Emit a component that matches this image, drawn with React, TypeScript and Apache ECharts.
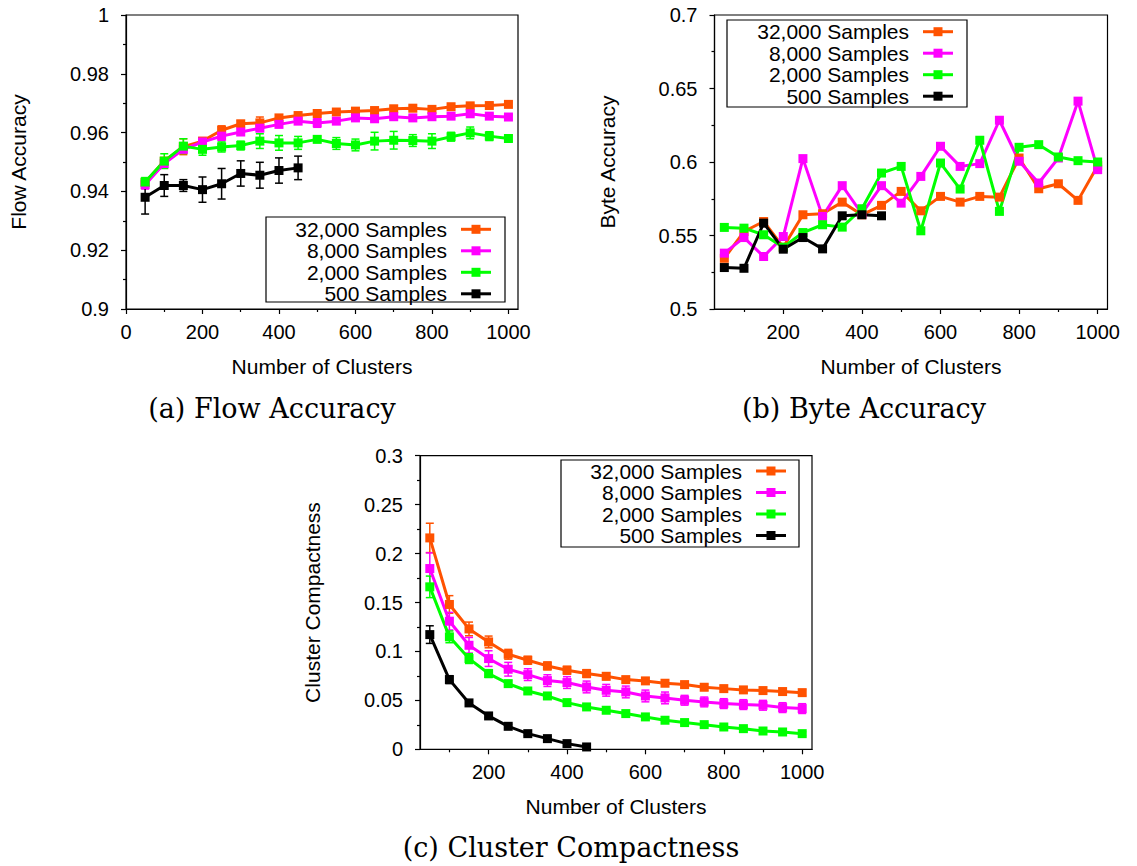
import React, { useEffect, useRef } from 'react';
import * as echarts from 'echarts';

const SANS = "'Liberation Sans', Arial, Helvetica, sans-serif";
const SERIF = "'DejaVu Serif', serif";

const clusters = [50, 100, 150, 200, 250, 300, 350, 400, 450, 500, 550, 600, 650, 700, 750, 800, 850, 900, 950, 1000];
const clustersSmall = [50, 100, 150, 200, 250, 300, 350, 400, 450];
const seriesNames = ['32,000 Samples', '8,000 Samples', '2,000 Samples', '500 Samples'];
const seriesColors = ['#ff5200', '#ff00ff', '#00ff00', '#000000'];

const xTicksA = [0, 200, 400, 600, 800, 1000];
const xTicksBC = [200, 400, 600, 800, 1000];
const xMinorTicks = [100, 300, 500, 700, 900];

// (a) Flow accuracy
const flow32k = [0.9430, 0.9503, 0.9552, 0.9571, 0.9608, 0.9630, 0.9633, 0.9650, 0.9658, 0.9665, 0.9670, 0.9673, 0.9675, 0.9681, 0.9683, 0.9679, 0.9688, 0.9691, 0.9692, 0.9696];
const flow8k = [0.9423, 0.9495, 0.9543, 0.9568, 0.9588, 0.9602, 0.9615, 0.9628, 0.9639, 0.9633, 0.9639, 0.9650, 0.9647, 0.9654, 0.9650, 0.9654, 0.9656, 0.9664, 0.9656, 0.9653];
const flow2k = [0.9432, 0.9503, 0.9554, 0.9543, 0.9551, 0.9556, 0.9571, 0.9565, 0.9565, 0.9577, 0.9563, 0.9558, 0.9571, 0.9574, 0.9573, 0.9571, 0.9586, 0.9599, 0.9588, 0.9580];
const flow500 = [0.9380, 0.9420, 0.9420, 0.9406, 0.9426, 0.9461, 0.9455, 0.9471, 0.9480];
const flowErr32k = [0.0008, 0.0010, 0.0027, 0.0008, 0.0015, 0.0010, 0.0020, 0.0010, 0.0008, 0.0008, 0.0008, 0.0008, 0.0008, 0.0008, 0.0008, 0.0008, 0.0008, 0.0008, 0.0008, 0.0008];
const flowErr8k = [0.0015, 0.0015, 0.0010, 0.0015, 0.0015, 0.0010, 0.0010, 0.0010, 0.0010, 0.0015, 0.0010, 0.0008, 0.0008, 0.0008, 0.0008, 0.0008, 0.0008, 0.0008, 0.0008, 0.0008];
const flowErr2k = [0.0015, 0.0025, 0.0025, 0.0020, 0.0017, 0.0015, 0.0025, 0.0025, 0.0022, 0.0010, 0.0020, 0.0020, 0.0030, 0.0030, 0.0020, 0.0025, 0.0015, 0.0020, 0.0015, 0.0010];
const flowErr500 = [0.0057, 0.0037, 0.0020, 0.0043, 0.0052, 0.0043, 0.0044, 0.0043, 0.0040];

// (b) Byte accuracy
const byte32k = [0.5345, 0.5527, 0.5595, 0.5420, 0.5641, 0.5648, 0.5727, 0.5641, 0.5705, 0.5800, 0.5668, 0.5766, 0.5727, 0.5766, 0.5761, 0.6027, 0.5818, 0.5852, 0.5739, 0.5975];
const byte8k = [0.5380, 0.5486, 0.5357, 0.5493, 0.6023, 0.5630, 0.5839, 0.5648, 0.5839, 0.5720, 0.5902, 0.6107, 0.5970, 0.5989, 0.6284, 0.6005, 0.5857, 0.6027, 0.6414, 0.5948];
const byte2k = [0.5555, 0.5550, 0.5505, 0.5420, 0.5520, 0.5573, 0.5557, 0.5682, 0.5925, 0.5970, 0.5532, 0.5993, 0.5816, 0.6148, 0.5664, 0.6100, 0.6118, 0.6034, 0.6009, 0.6000];
const byte500 = [0.5282, 0.5277, 0.5584, 0.5407, 0.5486, 0.5409, 0.5634, 0.5641, 0.5634];

// (c) Cluster compactness
const comp32k = [0.216, 0.148, 0.123, 0.1097, 0.0971, 0.091, 0.0852, 0.0808, 0.0774, 0.0746, 0.0712, 0.0699, 0.0675, 0.0661, 0.0634, 0.062, 0.0607, 0.060, 0.059, 0.0579];
const comp8k = [0.1847, 0.1309, 0.1063, 0.0927, 0.0818, 0.0763, 0.0702, 0.0682, 0.0637, 0.0603, 0.0586, 0.0545, 0.0525, 0.0501, 0.0484, 0.0467, 0.0457, 0.045, 0.0426, 0.0416];
const comp2k = [0.166, 0.1149, 0.0927, 0.0774, 0.0671, 0.0596, 0.0545, 0.0477, 0.0433, 0.0399, 0.0365, 0.0331, 0.0297, 0.0273, 0.0252, 0.0228, 0.0211, 0.0187, 0.0177, 0.016];
const comp500 = [0.1172, 0.0712, 0.0474, 0.0341, 0.0235, 0.016, 0.0109, 0.0058, 0.0024];
const compErr32k = [0.015, 0.009, 0.007, 0.006, 0.005, 0.004, 0.004, 0.004, 0.004, 0.0035, 0.003, 0.003, 0.003, 0.003, 0.003, 0.003, 0.003, 0.003, 0.003, 0.003];
const compErr8k = [0.016, 0.009, 0.008, 0.008, 0.007, 0.006, 0.006, 0.006, 0.006, 0.006, 0.006, 0.006, 0.006, 0.005, 0.005, 0.005, 0.005, 0.005, 0.005, 0.005];
const compErr2k = [0.011, 0.006, 0.005, 0.004, 0.003, 0.003, 0.003, 0.002, 0.002, 0.002, 0.002, 0.002, 0.002, 0.002, 0.002, 0.002, 0.002, 0.002, 0.002, 0.002];
const compErr500 = [0.009, 0.004, 0.003, 0.002, 0.002, 0.002, 0.002, 0.002, 0.002];

const AXIS_COLOR = '#000';
const AXIS_W = 1.2;

function fmt(v: number) {
  return String(+Number(v).toFixed(3));
}

function makeXAxes(gridIndex: number, min: number, labels: number[]) {
  return [
    {
      type: 'value', gridIndex, min, max: 1025, position: 'bottom',
      axisLine: { show: true, onZero: false, lineStyle: { color: AXIS_COLOR, width: AXIS_W } },
      axisTick: { show: true, customValues: labels, length: 5, lineStyle: { color: AXIS_COLOR, width: AXIS_W } },
      axisLabel: { show: true, customValues: labels, margin: 13, fontSize: 20, color: '#000', fontFamily: SANS, formatter: fmt },
      splitLine: { show: false },
      name: 'Number of Clusters', nameLocation: 'middle', nameGap: 47,
      nameTextStyle: { fontSize: 21, color: '#000', fontFamily: SANS },
    },
    {
      type: 'value', gridIndex, min, max: 1025, position: 'bottom',
      axisLine: { show: false, onZero: false },
      axisTick: { show: true, customValues: xMinorTicks, length: 3, lineStyle: { color: AXIS_COLOR, width: AXIS_W } },
      axisLabel: { show: false },
      splitLine: { show: false },
    },
  ];
}

function makeYAxis(gridIndex: number, min: number, max: number, interval: number, name: string) {
  return {
    type: 'value', gridIndex, min, max, interval,
    axisLine: { show: true, onZero: false, lineStyle: { color: AXIS_COLOR, width: AXIS_W } },
    axisTick: { show: true, length: 5, lineStyle: { color: AXIS_COLOR, width: AXIS_W } },
    minorTick: { show: true, splitNumber: 2, length: 3, lineStyle: { color: AXIS_COLOR, width: AXIS_W } },
    axisLabel: { margin: 17, fontSize: 20, color: '#000', fontFamily: SANS, formatter: fmt },
    splitLine: { show: false },
    minorSplitLine: { show: false },
    name, nameLocation: 'middle', nameGap: 97, nameRotate: 90,
    nameTextStyle: { fontSize: 21, color: '#000', fontFamily: SANS },
  };
}

function lineSeries(name: string, color: string, xs: number[], ys: number[], xAxisIndex: number, yAxisIndex: number) {
  return {
    type: 'line', name, xAxisIndex, yAxisIndex,
    data: xs.map((x, i) => [x, ys[i]]),
    symbol: 'rect', symbolSize: 9,
    lineStyle: { width: 3, color },
    itemStyle: { color },
    silent: true,
  };
}

function errSeries(color: string, xs: number[], ys: number[], errs: number[], xAxisIndex: number, yAxisIndex: number) {
  return {
    type: 'custom', xAxisIndex, yAxisIndex, silent: true,
    data: xs.map((x, i) => [x, ys[i] - errs[i], ys[i] + errs[i]]),
    encode: { x: 0, y: [1, 2] },
    renderItem: (params: any, api: any) => {
      const x = api.value(0);
      const pLo = api.coord([x, api.value(1)]);
      const pHi = api.coord([x, api.value(2)]);
      const w = 4;
      const style = { stroke: color, lineWidth: 1.5, fill: 'none' };
      return {
        type: 'group',
        children: [
          { type: 'line', shape: { x1: pLo[0], y1: pLo[1], x2: pHi[0], y2: pHi[1] }, style },
          { type: 'line', shape: { x1: pLo[0] - w, y1: pLo[1], x2: pLo[0] + w, y2: pLo[1] }, style },
          { type: 'line', shape: { x1: pHi[0] - w, y1: pHi[1], x2: pHi[0] + w, y2: pHi[1] }, style },
        ],
      };
    },
  };
}

function legendGraphic(boxX: number, boxY: number, boxW: number, boxH: number, textRight: number, rowYs: number[]) {
  const children: any[] = [
    { type: 'rect', shape: { x: boxX, y: boxY, width: boxW, height: boxH }, style: { fill: '#fff', stroke: '#000', lineWidth: 1.2 } },
  ];
  seriesNames.forEach((n, i) => {
    const y = rowYs[i];
    children.push({ type: 'text', style: { text: n, x: textRight, y, align: 'right', verticalAlign: 'middle', fontSize: 21, fontFamily: SANS, fill: '#000' } });
    children.push({ type: 'line', shape: { x1: textRight + 14, y1: y, x2: textRight + 44, y2: y }, style: { stroke: seriesColors[i], lineWidth: 3 } });
    children.push({ type: 'rect', shape: { x: textRight + 24.5, y: y - 4.5, width: 9, height: 9 }, style: { fill: seriesColors[i] } });
  });
  return { type: 'group', children, z: 100 };
}

function caption(text: string, x: number, y: number) {
  return { type: 'text', style: { text, x, y, align: 'center', verticalAlign: 'middle', fontSize: 27, fontFamily: SERIF, fill: '#000' } };
}

export default function App() {
  const ref = useRef<HTMLDivElement>(null);
  useEffect(() => {
    if (!ref.current) return;
    const chart = echarts.init(ref.current, undefined, { renderer: 'svg' });
    const gridBase = { show: true, borderColor: '#000', borderWidth: AXIS_W, backgroundColor: 'transparent' };
    const series: any[] = [];
    const addSet = (g: number, datasets: number[][], errsets: (number[] | null)[]) => {
      datasets.forEach((ys, i) => {
        const xs = i === 3 ? clustersSmall : clusters;
        const e = errsets[i];
        if (e) series.push(errSeries(seriesColors[i], xs, ys, e, 2 * g, g));
        series.push(lineSeries(seriesNames[i], seriesColors[i], xs, ys, 2 * g, g));
      });
    };
    addSet(0, [flow32k, flow8k, flow2k, flow500], [flowErr32k, flowErr8k, flowErr2k, flowErr500]);
    addSet(1, [byte32k, byte8k, byte2k, byte500], [null, null, null, null]);
    addSet(2, [comp32k, comp8k, comp2k, comp500], [compErr32k, compErr8k, compErr2k, compErr500]);

    chart.setOption({
      animation: false,
      backgroundColor: '#fff',
      grid: [
        { ...gridBase, left: 126, top: 15, width: 392, height: 294 },
        { ...gridBase, left: 714.5, top: 15, width: 393, height: 294 },
        { ...gridBase, left: 420, top: 455.7, width: 392, height: 293.6 },
      ],
      xAxis: [
        ...makeXAxes(0, 0, xTicksA),
        ...makeXAxes(1, 25, xTicksBC),
        ...makeXAxes(2, 25, xTicksBC),
      ],
      yAxis: [
        makeYAxis(0, 0.9, 1, 0.02, 'Flow Accuracy'),
        makeYAxis(1, 0.5, 0.7, 0.05, 'Byte Accuracy'),
        makeYAxis(2, 0, 0.3, 0.05, 'Cluster Compactness'),
      ],
      series,
      graphic: [
        legendGraphic(266, 217, 239, 85, 447, [229.3, 250.8, 272.3, 293.8]),
        legendGraphic(727, 20, 240, 87, 909, [31.7, 53.2, 74.7, 96.2]),
        legendGraphic(561, 460, 238, 87, 742, [471, 492.5, 514, 535.5]),
        caption('(a) Flow Accuracy', 272, 408),
        caption('(b) Byte Accuracy', 864, 408),
        caption('(c) Cluster Compactness', 571, 847),
      ],
    });
    return () => chart.dispose();
  }, []);
  return <div ref={ref} style={{ position: 'fixed', left: 0, top: 0, width: 1137, height: 866 }} />;
}
